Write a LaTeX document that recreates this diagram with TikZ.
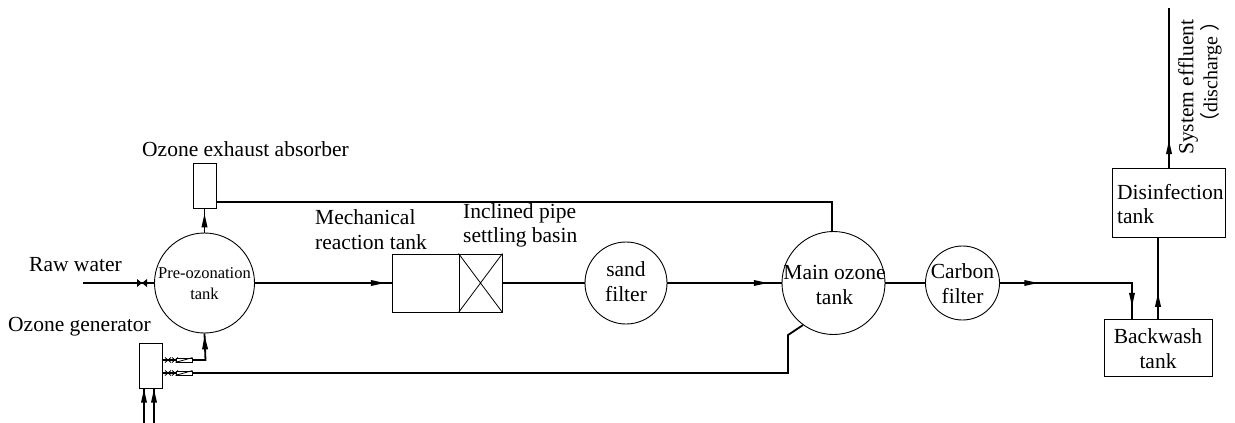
\documentclass[tikz,border=0pt]{standalone}
\usepackage{fontspec}
\setmainfont{Liberation Serif}
\newfontfamily\cjkfont{Noto Sans CJK SC}
\usetikzlibrary{arrows.meta,decorations.markings}
\tikzset{
  x=1pt,y=-1pt,
  tank/.style={circle,draw,line width=0.9pt,inner sep=0pt,minimum size=#1},
  box/.style={rectangle,draw,line width=0.9pt,inner sep=0pt,minimum width=#1},
  boxh/.style={minimum height=#1},
  pipe/.style={line width=1.8pt},
  head/.style={postaction={decorate},decoration={markings,mark=at position #1 with {\arrow{Triangle[length=14pt,width=5.5pt]}}}},
  lbl/.style={inner sep=0pt,font=\fontsize{21.5}{25}\selectfont},
  lblsmall/.style={inner sep=0pt,font=\fontsize{16.5}{21}\selectfont},
  lbldis/.style={inner sep=0pt,font=\fontsize{20}{25}\selectfont},
  thinl/.style={line width=0.8pt},
  valverect/.style={rectangle,draw,line width=0.8pt,fill=white,inner sep=0pt,minimum width=16pt,minimum height=4pt},
}
\newcommand{\smallvalves}[2]{%
  \draw[thinl] (#1-3,#2-2.5) -- (#1+3,#2+2.5) (#1-3,#2+2.5) -- (#1+3,#2-2.5);
  \draw[thinl] (#1+4,#2-2.5) -- (#1+10,#2+2.5) (#1+4,#2+2.5) -- (#1+10,#2-2.5);
}
\begin{document}
\begin{tikzpicture}
\useasboundingbox (0,0) rectangle (1235,423);
% tanks
\node[tank=100pt] (pre) at (204.5,283) {};
\node[tank=103pt] (main) at (833.5,283) {};
\node[tank=82pt] (sand) at (626,283) {};
\node[tank=74pt] (carbon) at (962.5,283) {};
% boxes
\node[box=23pt,boxh=45pt] (absorber) at (204.5,185.5) {};
\node[box=23pt,boxh=45pt] (generator) at (150.5,365.5) {};
\node[box=67pt,boxh=58pt] (mech) at (425.5,283) {};
\node[box=43pt,boxh=58pt] (incl) at (480.5,283) {};
\node[box=113pt,boxh=69pt] (disinf) at (1168.5,202.5) {};
\node[box=108pt,boxh=57pt] (backwash) at (1158,347.5) {};
\draw[thinl] (incl.north west) -- (incl.south east) (incl.north east) -- (incl.south west);
% free ends
\coordinate (rawin) at (83,283);
\coordinate (out) at (1169,8);
\coordinate (genup) at (206,360);
\coordinate (genlow) at (162,373);
\coordinate (genupstart) at (162,360);
\coordinate (in1) at (144,423);
\coordinate (in2) at (154,423);
% pipes
\draw[pipe] (rawin) -- (pre.west);
\draw[pipe] (pre.east) -- (mech.west);
\draw[pipe,head=0.97] (pre.east) -- (389,283);
\draw[pipe] (incl.east) -- (sand.west);
\draw[pipe,head=0.88] (sand.east) -- (main.west);
\draw[pipe] (main.east) -- (carbon.west);
\draw[pipe,head=0.8] (pre.north) -- (absorber.south);
\draw[pipe] (absorber.east |- 0,202) -- (832,202) -- (832,231.3);
\draw[pipe,head=0.29] (carbon.east) -- (1132,283);
\draw[pipe,head=0.67] (1132,282.1) -- (1132,319);
\draw[pipe,head=0.32] (1158,319) -- (1158,237);
\draw[pipe,head=0.175] (1169,168) -- (out);
\draw[pipe] (genupstart) -- (genup);
\draw[pipe,head=0.93] (205.5,360.9) -- (pre.south);
\draw[pipe] (genlow) -- (788,373) -- (788,335) -- (803,325);
\draw[pipe,head=0.98] (in1) -- (144,388);
\draw[pipe,head=0.98] (in2) -- (154,388);
% valves
\node[valverect] (vr1) at (184,360) {};
\node[valverect] (vr2) at (184,373) {};
\draw[thinl] (vr1.south west) -- (vr1.north east);
\draw[thinl] (vr2.south west) -- (vr2.north east);
\smallvalves{168}{360}
\smallvalves{168}{373}
\fill (137,279) -- (147,287) -- (147,279) -- (137,287) -- cycle;
% text
\node[lbl,anchor=west] (traw) at (29,265) {Raw water};
\node[lbl,anchor=west] (tgen) at (8,327) {Ozone generator};
\node[lbl,anchor=west] (tabs) at (142,149) {Ozone exhaust absorber};
\node[lblsmall,align=center] (tpre) at (204.5,284) {Pre-ozonation\\tank};
\node[lbl,anchor=west] (tm1) at (315,217) {Mechanical};
\node[lbl,anchor=west] (tm2) at (315,242) {reaction tank};
\node[lbl,anchor=west] (ti1) at (463,213) {Inclined pipe};
\node[lbl,anchor=west] (ti2) at (463,237) {settling basin};
\node[lbl,align=center] (tsand) at (626,282) {sand\\filter};
\node[lbl,align=center] (tmain) at (834.5,285) {Main ozone\\tank};
\node[lbl,align=center] (tcarb) at (962.5,284) {Carbon\\filter};
\node[lbl,anchor=west] (td1) at (1117,192) {Disinfection};
\node[lbl,anchor=west] (td2) at (1117,216) {tank};
\node[lbl,align=center] (tb) at (1158,349) {Backwash\\tank};
\node[lbl,rotate=90,anchor=west] (ts1) at (1188,155) {System effluent};
\node[lbldis,rotate=90,anchor=west] (ts2) at (1211,133) {{\cjkfont （}discharge {\cjkfont ）}};
\end{tikzpicture}
\end{document}
